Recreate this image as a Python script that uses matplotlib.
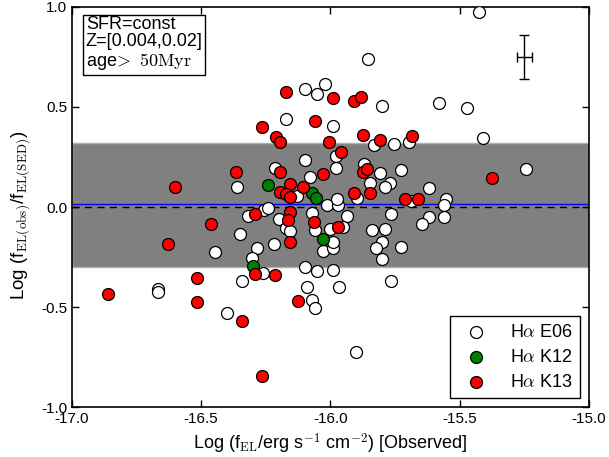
import matplotlib
matplotlib.use("Agg")
import matplotlib.pyplot as plt

plt.rcParams["font.family"] = ["Liberation Sans", "DejaVu Sans"]
plt.rcParams["mathtext.fontset"] = "cm"
plt.rcParams["axes.unicode_minus"] = False

# H-alpha E06 sample
e06_flux = [-15.425, -15.855, -16.10, -16.05, -16.02, -15.80, -15.58, -15.47, -15.41,
            -15.99, -16.17, -16.10, -15.98, -15.98, -16.08, -16.215, -15.83, -15.755,
            -15.695, -15.87, -15.81, -15.727, -15.847, -15.77, -15.79, -15.62, -15.245,
            -15.553, -15.56, -16.015, -15.97, -15.975, -15.69, -16.07, -15.935, -15.765,
            -15.62, -15.645, -15.56, -15.84, -15.79, -15.80, -15.825, -15.725, -15.80,
            -15.765, -16.10, -16.05, -15.99, -16.09, -15.965, -16.07, -16.06, -15.90,
            -16.06, -16.00, -16.03, -15.99, -15.99, -15.95, -16.32, -16.257, -16.24,
            -16.20, -16.17, -16.155, -16.35, -16.22, -16.285, -16.305, -16.26, -16.34,
            -16.445, -16.665, -16.665, -16.40, -16.36, -16.13, -15.897]
e06_ratio = [0.975, 0.74, 0.59, 0.565, 0.615, 0.505, 0.52, 0.495, 0.345,
             0.405, 0.44, 0.235, 0.255, 0.195, 0.15, 0.195, 0.31, 0.315,
             0.325, 0.215, 0.17, 0.185, 0.12, 0.12, 0.10, 0.095, 0.19,
             0.04, 0.01, 0.01, 0.01, 0.04, 0.03, -0.03, -0.045, -0.035,
             -0.05, -0.085, -0.05, -0.115, -0.11, -0.175, -0.205, -0.20, -0.26,
             -0.37, -0.30, -0.32, -0.315, -0.40, -0.40, -0.465, -0.505, -0.725,
             -0.115, -0.11, -0.22, -0.205, -0.175, -0.10, -0.045, -0.015, -0.005,
             -0.06, -0.105, -0.12, -0.135, -0.185, -0.205, -0.255, -0.33, -0.37,
             -0.225, -0.41, -0.425, -0.53, 0.10, 0.055, 0.045]

# H-alpha K12 sample
k12_flux = [-16.24, -16.07, -16.055, -16.03, -16.30]
k12_ratio = [0.11, 0.07, 0.045, -0.16, -0.295]

# H-alpha K13 sample
k13_flux = [-16.17, -15.99, -15.91, -15.88, -16.06, -16.265, -16.21, -16.195, -16.005,
            -15.96, -15.875, -15.81, -15.685, -15.375, -16.03, -16.105, -15.91, -15.845,
            -15.71, -15.66, -15.875, -15.86, -16.365, -16.60, -16.195, -16.155, -16.195,
            -16.17, -16.155, -16.29, -16.155, -16.165, -16.065, -15.97, -16.155, -16.29,
            -16.215, -16.125, -16.46, -16.63, -16.515, -16.86, -16.515, -16.34, -16.265]
k13_ratio = [0.575, 0.545, 0.53, 0.55, 0.43, 0.40, 0.35, 0.325, 0.325,
             0.275, 0.36, 0.335, 0.355, 0.145, 0.165, 0.10, 0.07, 0.07,
             0.04, 0.04, 0.175, 0.19, 0.175, 0.10, 0.175, 0.115, 0.075,
             0.065, 0.05, -0.035, -0.025, -0.065, -0.075, -0.10, -0.175, -0.335,
             -0.34, -0.47, -0.085, -0.185, -0.355, -0.435, -0.475, -0.57, -0.845]

band_lo, band_hi = -0.30, 0.32
median_offset = 0.015
err_x, err_y = -15.25, 0.75
err_dx, err_dy = 0.03, 0.11

fig = plt.figure(figsize=(6.09, 4.57), dpi=100)
ax = fig.add_axes([0.118, 0.109, 0.849, 0.876])

ax.axhspan(band_lo, band_hi, facecolor="#808080", edgecolor="#b0b0b0", lw=1, zorder=0)
ax.axhline(median_offset, color="blue", lw=1, zorder=1)
ax.axhline(0.0, color="black", lw=1, ls=(0, (5, 4)), zorder=1)

kw = dict(s=74, edgecolors="black", linewidths=0.9, zorder=3)
ax.scatter(e06_flux, e06_ratio, c="white", label=r"H$\alpha$ E06", **kw)
ax.scatter(k12_flux, k12_ratio, c="green", label=r"H$\alpha$ K12", **kw)
ax.scatter(k13_flux, k13_ratio, c="red", label=r"H$\alpha$ K13", **kw)

# typical uncertainty
ax.errorbar(err_x, err_y, xerr=err_dx, yerr=err_dy, color="black", lw=1,
            capsize=3.5, capthick=1)

ax.set_xlim(-17.0, -15.0)
ax.set_ylim(-1.0, 1.0)
ax.set_xticks([-17.0, -16.5, -16.0, -15.5, -15.0])
ax.set_yticks([-1.0, -0.5, 0.0, 0.5, 1.0])
ax.set_xticklabels(["-17.0", "-16.5", "-16.0", "-15.5", "-15.0"])
ax.set_yticklabels(["-1.0", "-0.5", "0.0", "0.5", "1.0"])
ax.tick_params(direction="in", top=True, right=True, length=5, width=1, labelsize=11)
for sp in ax.spines.values():
    sp.set_linewidth(1.2)

ax.set_xlabel(r"Log (f$_{\rm EL}$/erg s$^{-1}$ cm$^{-2}$) [Observed]", fontsize=13)
ax.set_ylabel(r"Log (f$_{\rm EL(obs)}$/f$_{\rm EL(SED)}$)", fontsize=13.5)
ax.yaxis.set_label_coords(-0.078, 0.48)

ax.text(0.027, 0.978, "SFR=const\nZ=[0.004,0.02]\n" + r"age$\!>\ \mathrm{50Myr}$",
        transform=ax.transAxes, fontsize=13, va="top", ha="left", linespacing=1.05,
        bbox=dict(boxstyle="square,pad=0.15", facecolor="white", edgecolor="black", lw=1),
        zorder=5)

leg = ax.legend(loc="lower right", scatterpoints=1, fontsize=13, fancybox=False,
                edgecolor="black", framealpha=1, borderpad=0.4, handletextpad=0.9,
                labelspacing=0.45, borderaxespad=0.5)
leg.get_frame().set_linewidth(1)

fig.savefig("out.png", dpi=100)
